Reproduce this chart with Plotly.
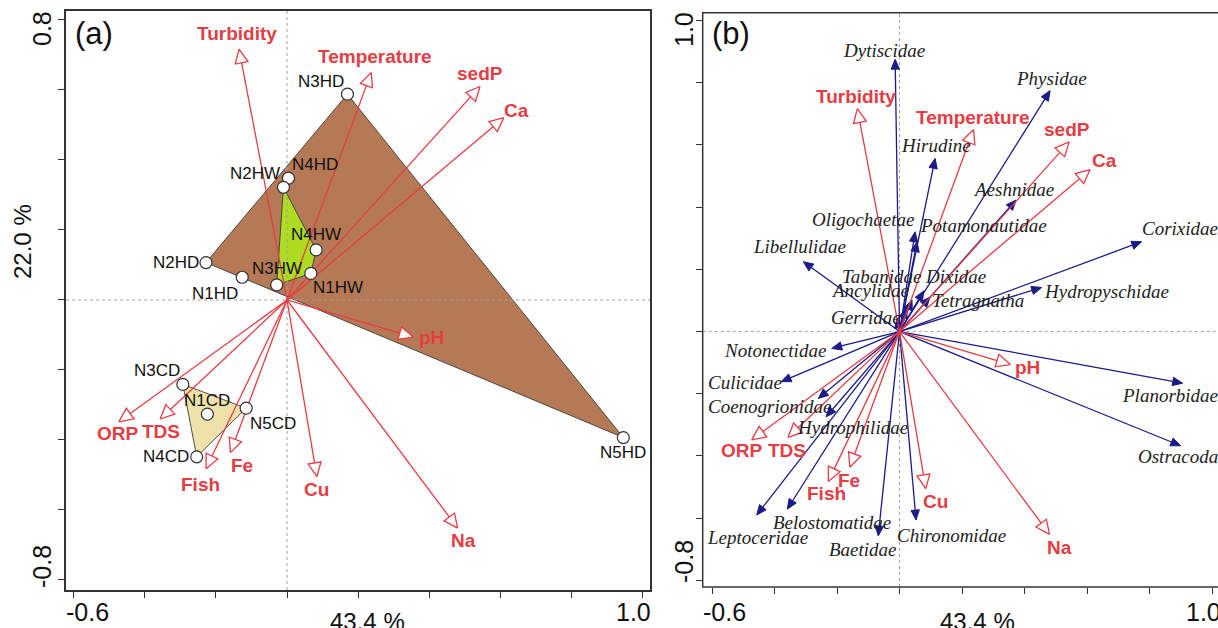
import numpy as np
import plotly.graph_objects as go

W, H = 1218, 628

# ---------------- data ----------------
env_vars = ["Turbidity", "Temperature", "sedP", "Ca", "pH", "Na", "Cu", "Fe", "Fish", "TDS", "ORP"]
env_x = [-0.135, 0.237, 0.543, 0.610, 0.355, 0.480, 0.084, -0.159, -0.228, -0.357, -0.473]
env_y = [0.717, 0.650, 0.610, 0.521, -0.106, -0.652, -0.505, -0.436, -0.482, -0.340, -0.348]

site_names = ["N1HD", "N2HD", "N3HD", "N4HD", "N5HD", "N1HW", "N2HW", "N3HW", "N4HW",
              "N1CD", "N3CD", "N4CD", "N5CD"]
site_x = [-0.126, -0.228, 0.170, 0.004, 0.946, 0.067, -0.010, -0.029, 0.082,
          -0.224, -0.293, -0.254, -0.115]
site_y = [0.065, 0.107, 0.588, 0.348, -0.393, 0.076, 0.322, 0.043, 0.143,
          -0.326, -0.241, -0.448, -0.309]
site_group = ["HD"] * 5 + ["HW"] * 4 + ["CD"] * 4

species = ["Dytiscidae", "Physidae", "Hirudine", "Aeshnidae", "Oligochaetae", "Potamonautidae",
           "Libellulidae", "Corixidae", "Tabanidae", "Dixidae", "Ancylidae", "Tetragnatha",
           "Hydropyschidae", "Gerridae", "Notonectidae", "Culicidae", "Coenogrionidae",
           "Hydrophilidae", "Planorbidae", "Ostracoda", "Leptoceridae", "Belostomatidae",
           "Baetidae", "Chironomidae"]
sp_x = [-0.014, 0.482, 0.114, 0.373, 0.050, 0.056, -0.308, 0.775, 0.040, 0.078, 0.021, 0.098,
        0.455, -0.008, -0.217, -0.379, -0.260, -0.235, 0.906, 0.900, -0.457, -0.359,
        -0.068, 0.053]
sp_y = [0.876, 0.775, 0.557, 0.423, 0.321, 0.289, 0.225, 0.289, 0.102, 0.131, 0.076, 0.111,
        0.142, 0.044, -0.054, -0.161, -0.215, -0.274, -0.166, -0.367, -0.590, -0.571,
        -0.657, -0.606]

# ---------------- styles / layout geometry ----------------
RED = "#E63C44"
BLUE = "#1B1B8A"
DARK = "#333333"
SANS = "Liberation Sans, Arial, sans-serif"
SERIF = "Liberation Serif, Times New Roman, serif"
hull_fill = {"HD": "#B57A55", "HW": "#ADDC22", "CD": "#EEE2AA"}

# panel geometry (domains and ranges)
xa_dom, ya_dom = [0.05419, 0.53366], [0.06051, 0.98248]
xa_rng, ya_rng = [-0.6217, 1.0211], [-0.8286, 0.8257]
xb_dom, yb_dom = [0.57693, 1.0], [0.06529, 0.97978]
xb_rng, yb_rng = [-0.6298, 1.0192], [-0.8212, 1.0254]

def scale(dom, rng, size):
    return (dom[1] - dom[0]) * size / (rng[1] - rng[0])

sxa, sya = scale(xa_dom, xa_rng, W), scale(ya_dom, ya_rng, H)
sxb, syb = scale(xb_dom, xb_rng, W), scale(yb_dom, yb_rng, H)

# label offsets in pixels (dx right, dy down)
env_off_a = [(-2, -16), (4, -16), (0, -13), (13, -7), (18, 0), (6, 12), (0, 13), (12, 13),
             (-5, 16), (1, 13), (-1, 12)]
env_off_b = [(-1, -12), (-1, -12), (-2, -12), (14, -9), (17, 3), (10, 13), (10, 13), (-1, 13),
             (-2, 12), (-1, 13), (-10, 11)]
site_off = [(-27, 16), (-30, 0), (-26, -13), (27, -14), (0, 15), (27, 14), (-28, -14), (0, -16),
            (0, -15), (0, -14), (-26, -14), (-31, 0), (27, 15)]
sp_off = [(-11, -9), (1, -12), (1, -13), (-3, -11), (-52, -12), (66, -16), (-4, -15), (38, -13),
          (-30, -23), (32, -14), (-36, -17), (48, 3), (65, 4), (-31, 0), (-57, 2), (-36, 1),
          (-48, 8), (26, 11), (-13, 12), (-3, 11), (1, 22), (45, 13), (-15, 14), (35, 15)]


def convex_hull(pts):
    pts = sorted(set(pts))
    if len(pts) <= 2:
        return pts
    def cross(o, a, b):
        return (a[0] - o[0]) * (b[1] - o[1]) - (a[1] - o[1]) * (b[0] - o[0])
    lower, upper = [], []
    for p in pts:
        while len(lower) >= 2 and cross(lower[-2], lower[-1], p) <= 0:
            lower.pop()
        lower.append(p)
    for p in reversed(pts):
        while len(upper) >= 2 and cross(upper[-2], upper[-1], p) <= 0:
            upper.pop()
        upper.append(p)
    return lower[:-1] + upper[:-1]


def arrows(xs, ys, sx, sy, L, hw):
    """Return shaft coordinates (to arrow base) and head polygons, in data units."""
    shx, shy, hx, hy = [], [], [], []
    for x, y in zip(xs, ys):
        vx, vy = x * sx, y * sy
        n = np.hypot(vx, vy)
        ux, uy = vx / n, vy / n
        bx, by = vx - L * ux, vy - L * uy
        shx += [0, bx / sx, None]
        shy += [0, by / sy, None]
        p1 = (bx - hw * uy, by + hw * ux)
        p2 = (bx + hw * uy, by - hw * ux)
        for a, b in [(vx, vy), p1, p2, (vx, vy)]:
            hx.append(a / sx)
            hy.append(b / sy)
        hx.append(None)
        hy.append(None)
    return shx, shy, hx, hy


fig = go.Figure()

# ---------- panel (a) ----------
for g in ["HD", "HW", "CD"]:
    pts = [(x, y) for x, y, gg in zip(site_x, site_y, site_group) if gg == g]
    hull = convex_hull(pts)
    hull.append(hull[0])
    fig.add_trace(go.Scatter(x=[p[0] for p in hull], y=[p[1] for p in hull], mode="lines",
                             fill="toself", fillcolor=hull_fill[g],
                             line=dict(color="#3A3A3A", width=0.9),
                             xaxis="x", yaxis="y", hoverinfo="skip", showlegend=False))

# zero reference lines
fig.add_trace(go.Scatter(x=[0, 0, None, xa_rng[0], xa_rng[1]], y=[ya_rng[0], ya_rng[1], None, 0, 0],
                         mode="lines", line=dict(color="#A0A0A0", width=1, dash="dot"),
                         xaxis="x", yaxis="y", hoverinfo="skip", showlegend=False))

shx, shy, hx, hy = arrows(env_x, env_y, sxa, sya, 14, 6.5)
fig.add_trace(go.Scatter(x=shx, y=shy, mode="lines", line=dict(color=RED, width=1.3),
                         xaxis="x", yaxis="y", hoverinfo="skip", showlegend=False))
fig.add_trace(go.Scatter(x=hx, y=hy, mode="lines", fill="toself", fillcolor="white",
                         line=dict(color=RED, width=1.3),
                         xaxis="x", yaxis="y", hoverinfo="skip", showlegend=False))

fig.add_trace(go.Scatter(x=site_x, y=site_y, mode="markers",
                         marker=dict(size=12, color="white", line=dict(color=DARK, width=1.2)),
                         xaxis="x", yaxis="y", hoverinfo="text", text=site_names, showlegend=False))

annotations = []
for name, x, y, (dx, dy) in zip(site_names, site_x, site_y, site_off):
    annotations.append(dict(x=x, y=y, xref="x", yref="y", text=name, showarrow=False,
                            xshift=dx, yshift=-dy, font=dict(family=SANS, size=17, color="#111")))
for name, x, y, (dx, dy) in zip(env_vars, env_x, env_y, env_off_a):
    annotations.append(dict(x=x, y=y, xref="x", yref="y", text="<b>%s</b>" % name, showarrow=False,
                            xshift=dx, yshift=-dy, font=dict(family=SANS, size=19, color=RED)))

# ---------- panel (b) ----------
fig.add_trace(go.Scatter(x=[0, 0, None, xb_rng[0], xb_rng[1]], y=[yb_rng[0], yb_rng[1], None, 0, 0],
                         mode="lines", line=dict(color="#A0A0A0", width=1, dash="dot"),
                         xaxis="x2", yaxis="y2", hoverinfo="skip", showlegend=False))

shx, shy, hx, hy = arrows(sp_x, sp_y, sxb, syb, 10, 4.2)
fig.add_trace(go.Scatter(x=shx, y=shy, mode="lines", line=dict(color=BLUE, width=1.3),
                         xaxis="x2", yaxis="y2", hoverinfo="skip", showlegend=False))
fig.add_trace(go.Scatter(x=hx, y=hy, mode="lines", fill="toself", fillcolor=BLUE,
                         line=dict(color=BLUE, width=1),
                         xaxis="x2", yaxis="y2", hoverinfo="skip", showlegend=False))

shx, shy, hx, hy = arrows(env_x, env_y, sxb, syb, 14, 6.5)
fig.add_trace(go.Scatter(x=shx, y=shy, mode="lines", line=dict(color=RED, width=1.3),
                         xaxis="x2", yaxis="y2", hoverinfo="skip", showlegend=False))
fig.add_trace(go.Scatter(x=hx, y=hy, mode="lines", fill="toself", fillcolor="white",
                         line=dict(color=RED, width=1.3),
                         xaxis="x2", yaxis="y2", hoverinfo="skip", showlegend=False))

for name, x, y, (dx, dy) in zip(species, sp_x, sp_y, sp_off):
    annotations.append(dict(x=x, y=y, xref="x2", yref="y2", text="<i>%s</i>" % name, showarrow=False,
                            xshift=dx, yshift=-dy, font=dict(family=SERIF, size=19, color="#222")))
for name, x, y, (dx, dy) in zip(env_vars, env_x, env_y, env_off_b):
    annotations.append(dict(x=x, y=y, xref="x2", yref="y2", text="<b>%s</b>" % name, showarrow=False,
                            xshift=dx, yshift=-dy, font=dict(family=SANS, size=19, color=RED)))

# ---------- axis texts (paper positions in pixels) ----------
def ptxt(text, px, py, size, angle=0):
    return dict(x=px / W, y=1 - py / H, xref="paper", yref="paper", text=text, showarrow=False,
                textangle=angle, xanchor="center", yanchor="middle",
                font=dict(family=SANS, size=size, color="#111"))

annotations += [
    ptxt("(a)", 94, 33, 31), ptxt("(b)", 731, 33, 31),
    ptxt("-0.6", 87, 612, 25), ptxt("1.0", 633, 612, 25), ptxt("43.4 %", 367, 621, 24),
    ptxt("0.8", 42, 29, 25, -90), ptxt("-0.8", 42, 567, 25, -90), ptxt("22.0 %", 22, 242, 24, -90),
    ptxt("-0.6", 724, 612, 25), ptxt("1.0", 1203, 612, 25), ptxt("43.4 %", 977, 621, 24),
    ptxt("1.0", 684, 30, 25, -90), ptxt("-0.8", 684, 562, 25, -90),
]

axis_common = dict(showgrid=False, zeroline=False, showticklabels=False, ticks="outside",
                   ticklen=6, tickwidth=1.2, tickcolor=DARK, linecolor=DARK, linewidth=1.5)

fig.update_layout(
    width=W, height=H, margin=dict(l=0, r=0, t=0, b=0),
    paper_bgcolor="white", plot_bgcolor="white", showlegend=False,
    xaxis=dict(domain=xa_dom, range=xa_rng, tickvals=[-0.6, -0.4, -0.2, 0, 0.2, 0.4, 0.6, 0.8, 1.0],
               anchor="y", mirror=True, showline=True, **axis_common),
    yaxis=dict(domain=ya_dom, range=ya_rng, tickvals=[-0.8, -0.6, -0.4, -0.2, 0, 0.2, 0.4, 0.6, 0.8],
               anchor="x", mirror=True, showline=True, **axis_common),
    xaxis2=dict(domain=xb_dom, range=xb_rng, tickvals=[-0.6, -0.4, -0.2, 0, 0.2, 0.4, 0.6, 0.8, 1.0],
                anchor="y2", showline=False, **axis_common),
    yaxis2=dict(domain=yb_dom, range=yb_rng,
                tickvals=[-0.8, -0.6, -0.4, -0.2, 0, 0.2, 0.4, 0.6, 0.8, 1.0],
                anchor="x2", showline=False, **axis_common),
    shapes=[
        # open frame of panel (b): top, left and bottom edges
        dict(type="path", xref="x2 domain", yref="y2 domain",
             path="M 1.2,1 L 0,1 L 0,0 L 1.2,0", line=dict(color=DARK, width=1.5)),
    ],
    annotations=annotations,
)

fig.write_html("out.html", config={"displayModeBar": False},
               post_script="document.body.style.margin='0';document.body.style.padding='0';"
                           "document.body.style.overflow='hidden';")
